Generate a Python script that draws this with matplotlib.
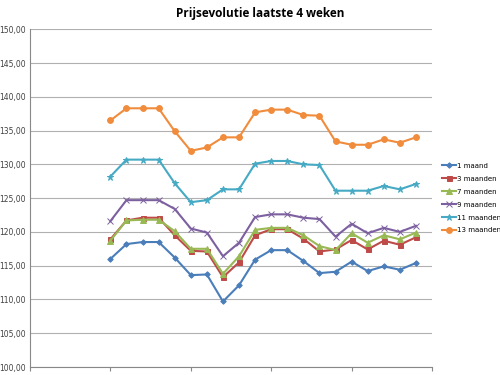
import matplotlib
matplotlib.use("Agg")
import matplotlib.pyplot as plt
import numpy as np

# reeksen (20 meetpunten)
maand_1 = [116.0, 118.2, 118.5, 118.5, 116.2, 113.6, 113.7, 109.7, 112.1, 115.9,
           117.3, 117.3, 115.7, 113.9, 114.1, 115.6, 114.2, 114.9, 114.4, 115.4]
maanden_3 = [118.9, 121.7, 122.1, 122.1, 119.5, 117.2, 117.1, 113.3, 115.5, 119.5,
             120.4, 120.4, 119.0, 117.1, 117.4, 118.8, 117.4, 118.7, 118.1, 119.2]
maanden_7 = [118.7, 121.7, 121.8, 121.8, 120.1, 117.5, 117.5, 113.8, 116.4, 120.3,
             120.6, 120.6, 119.5, 117.9, 117.3, 119.8, 118.4, 119.5, 118.9, 119.9]
maanden_9 = [121.6, 124.7, 124.7, 124.7, 123.4, 120.5, 119.9, 116.4, 118.4, 122.2,
             122.6, 122.6, 122.1, 121.9, 119.3, 121.2, 119.8, 120.6, 120.0, 120.9]
maanden_11 = [128.2, 130.7, 130.7, 130.7, 127.2, 124.4, 124.7, 126.3, 126.3, 130.1,
              130.5, 130.5, 130.0, 129.9, 126.1, 126.1, 126.1, 126.8, 126.3, 127.1]
maanden_13 = [136.5, 138.3, 138.3, 138.3, 134.9, 132.0, 132.5, 134.0, 134.0, 137.7,
              138.1, 138.1, 137.3, 137.2, 133.4, 132.9, 132.9, 133.7, 133.2, 134.0]

reeksen = [maand_1, maanden_3, maanden_7, maanden_9, maanden_11, maanden_13]
labels = ["1 maand", "3 maanden", "7 maanden", "9 maanden", "11 maanden", "13 maanden"]
kleuren = ['#4A7EBB', '#BE4B48', '#98B954', '#7D60A0', '#46AAC5', '#F08C3C']
markers = ['D', 's', '^', 'x', '*', 'o']
msizes = [2.8, 3.6, 3.8, 3.8, 4.5, 4.2]

fig = plt.figure(figsize=(5, 3.75), dpi=100)
ax = fig.add_axes([0.06, 0.0213, 0.804, 0.9007])

x = np.arange(len(maand_1))
for i in range(len(reeksen)):
    ax.plot(x, reeksen[i], color=kleuren[i], label=labels[i], lw=1.5,
            marker=markers[i], markersize=msizes[i], markeredgewidth=0.7)

ax.set_xlim(-5, 20)
ax.set_ylim(100, 150)
ax.set_xticks(np.arange(-5, 21, 5))
ax.set_xticklabels([])
ax.set_yticks(np.arange(100, 151, 5))
ax.yaxis.set_major_formatter(plt.FuncFormatter(lambda v, p: ("%.2f" % v).replace('.', ',')))
ax.tick_params(axis='y', length=0, labelsize=5.5, labelcolor='#404040', pad=3)
ax.tick_params(axis='x', length=3, color='#888888', direction='out')
ax.grid(axis='y', color='#b0b0b0', lw=0.8)
ax.set_axisbelow(True)
for s in ['top', 'right']:
    ax.spines[s].set_visible(False)
ax.spines['left'].set_color('#888888')
ax.spines['bottom'].set_color('#888888')

fig.text(0.52, 0.963, "Prijsevolutie laatste 4 weken", ha='center', va='center',
         fontsize=8.5, fontweight='bold', family='Open Sans')

ax.legend(loc='center left', bbox_to_anchor=(1.024, 0.5), frameon=False,
          prop={'family': ['Liberation Sans Narrow', 'DejaVu Sans'], 'size': 5},
          handlelength=2.1, handletextpad=0.15, labelspacing=1.0,
          borderaxespad=0, borderpad=0)

plt.savefig('out.png', dpi=100)
